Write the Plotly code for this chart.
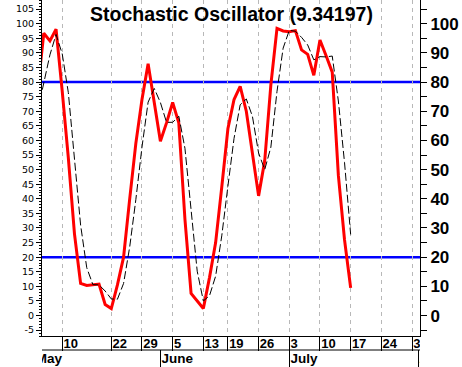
import plotly.graph_objects as go

# ---- data (x = trading-day index, 0 = 10 May) ----
day_index = list(range(-4, 48))
k_values = [77, 96.7, 94.1, 98.1, 77, 54, 28, 11, 10.3, 10.5, 10.8, 3.8, 2.4, 10.5,
            20, 40, 59, 74, 86.3, 73, 59.7, 66, 73, 66, 33, 7.6, 5, 2.4, 13, 25, 44,
            64, 74, 78.5, 70, 56, 41, 53, 79, 98.4, 97.5, 97.2, 97.6, 91, 89.5, 82.3,
            94.4, 89, 83.4, 48, 26, 9.5]
d_values = [70, 79.9, 89.3, 96.3, 89.7, 76.4, 53, 31, 16.4, 10.6, 10.5, 8.4, 5.7, 5.6,
            11, 23.5, 39.7, 57.7, 73.1, 77.8, 73, 66.2, 66.2, 68.3, 57.3, 35.5, 15.2, 5,
            6.8, 13.5, 27.3, 44.3, 60.7, 72.2, 74.2, 68.2, 55.7, 50, 57.7, 76.8, 91.6,
            97.7, 97.4, 95.3, 92.7, 87.6, 88.7, 88.6, 88.9, 73.5, 52.5, 27.8]
ref_levels = [20, 80]

week_ticks = [0, 8, 13, 18, 23, 27, 32, 37, 42, 47, 52, 57]
week_labels = ["10", "22", "29", "5", "13", "19", "26", "3", "10", "17", "24", "31"]
month_starts = [-4.5, 16, 37, 58]
month_labels = ["May", "June", "July", "August"]

left_ticks = list(range(-5, 110, 5))
right_ticks = list(range(-5, 110, 5))
right_labels = [str(v) if (v % 10 == 0 and 0 <= v <= 100) else "" for v in right_ticks]

TITLE = "Stochastic Oscillator (9.34197)"

# ---- geometry ----
W, H = 462, 367
PLOT_BOTTOM_PX = 31
X_RANGE = [-3.29, 58.3]
Y_RANGE = [-7, 108.1]
LABEL_PAD = 0.2

fig = go.Figure()

fig.add_trace(go.Scatter(x=day_index, y=k_values, mode="lines",
                         line=dict(color="#ff0000", width=3),
                         xaxis="x", yaxis="y", hoverinfo="skip", showlegend=False))
fig.add_trace(go.Scatter(x=day_index, y=d_values, mode="lines",
                         line=dict(color="black", width=1, dash="8px,3px"),
                         xaxis="x", yaxis="y3", hoverinfo="skip", showlegend=False))

# date labels row and month row (clipped text in bottom strip)
fig.add_trace(go.Scatter(x=[t + LABEL_PAD for t in week_ticks], y=[22.5] * len(week_ticks),
                         mode="text", text=week_labels, textposition="middle right",
                         textfont=dict(family="Arial, Liberation Sans", size=13, color="black", weight="bold"),
                         xaxis="x2", yaxis="y2", hoverinfo="skip", showlegend=False, cliponaxis=True))
fig.add_trace(go.Scatter(x=[m + LABEL_PAD for m in month_starts], y=[7] * len(month_starts),
                         mode="text", text=month_labels, textposition="middle right",
                         textfont=dict(family="Arial, Liberation Sans", size=13.5, color="black", weight="bold"),
                         xaxis="x2", yaxis="y2", hoverinfo="skip", showlegend=False, cliponaxis=True))

shapes = []
for lv in ref_levels:
    shapes.append(dict(type="line", xref="x domain", x0=0, x1=1, yref="y", y0=lv, y1=lv,
                       line=dict(color="#0000ff", width=2.5), layer="below"))
shapes.append(dict(type="line", xref="x2 domain", x0=0, x1=1, yref="y2", y0=17, y1=17,
                   line=dict(color="black", width=1)))

ydom = [PLOT_BOTTOM_PX / H, 1]

fig.update_layout(
    width=W, height=H,
    margin=dict(l=42, r=42, t=0, b=0, autoexpand=False),
    paper_bgcolor="white", plot_bgcolor="white",
    showlegend=False,
    shapes=shapes,
    annotations=[dict(text=TITLE, xref="paper", x=0.5, xanchor="center",
                      yref="paper", y=1 - 14 / H, yanchor="middle", showarrow=False,
                      font=dict(family="Arial, Liberation Sans", size=19.5, color="black", weight="bold"))],
    xaxis=dict(domain=[0, 1], range=X_RANGE, anchor="y", automargin=False,
               tickmode="array", tickvals=week_ticks, showticklabels=False,
               ticks="outside", ticklen=14, tickcolor="black", tickwidth=1,
               showgrid=True, gridcolor="#b8b8b8", griddash="4px,4px", gridwidth=1,
               showline=True, linecolor="black", linewidth=1, zeroline=False),
    yaxis=dict(domain=ydom, range=Y_RANGE, anchor="x", side="left", automargin=False,
               tickmode="array", tickvals=left_ticks, ticktext=[str(v) for v in left_ticks],
               ticks="outside", ticklen=5, tickcolor="black", tickwidth=1,
               tickfont=dict(family="DejaVu Sans", size=9.5, color="black"),
               minor=dict(dtick=1, tick0=0, ticks="outside", ticklen=2.5, tickcolor="black", tickwidth=1),
               showgrid=False, zeroline=False, showline=True, linecolor="black", linewidth=1),
    yaxis3=dict(range=Y_RANGE, overlaying="y", anchor="x", side="right", automargin=False,
                tickmode="array", tickvals=right_ticks, ticktext=right_labels,
                ticks="outside", ticklen=6, tickcolor="black", tickwidth=1,
                tickfont=dict(family="Arial, Liberation Sans", size=17, color="black", weight="bold"),
                showgrid=False, zeroline=False, showline=True, linecolor="black", linewidth=1),
    xaxis2=dict(domain=[0, 1], matches="x", anchor="y2", automargin=False,
                tickmode="array", tickvals=month_starts, showticklabels=False,
                ticks="inside", ticklen=17, tickcolor="black", tickwidth=1,
                showgrid=False, showline=False, zeroline=False),
    yaxis2=dict(domain=[0, PLOT_BOTTOM_PX / H], range=[0, 31], anchor="x2", visible=False,
                automargin=False),
)

fig.write_html("out.html", config={"displayModeBar": False, "staticPlot": True},
               post_script="document.body.style.margin='0';document.body.style.overflow='hidden';")
